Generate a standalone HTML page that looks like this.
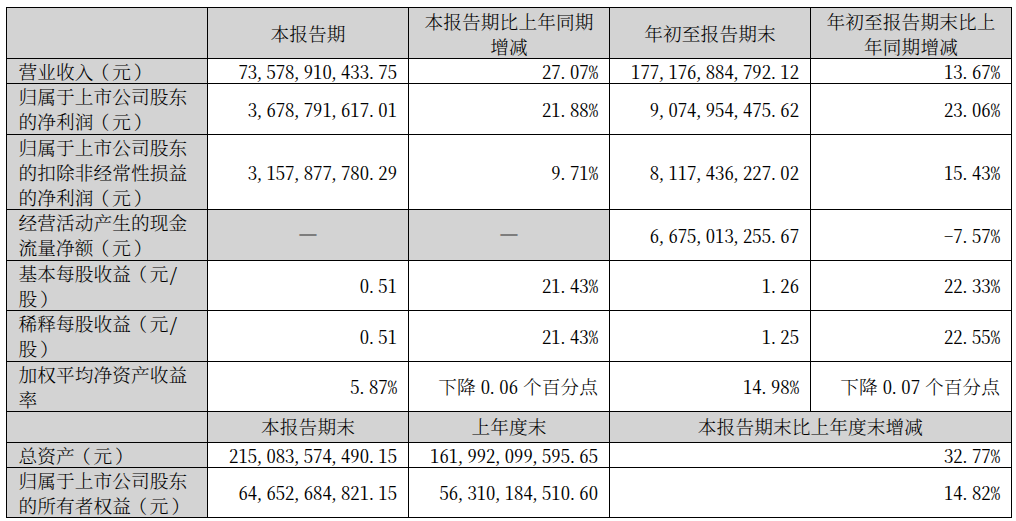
<!DOCTYPE html>
<html lang="zh-CN">
<head>
<meta charset="utf-8">
<title>主要会计数据和财务指标</title>
<style>
html,body{margin:0;padding:0;background:#fff;}
body{width:1016px;height:521px;position:relative;overflow:hidden;
  font-family:"Noto Serif CJK SC","Liberation Serif",serif;
  font-size:18.67px;line-height:25.2px;color:#000;font-kerning:none;}
table{position:absolute;left:6px;top:7px;width:1006px;border-collapse:collapse;table-layout:fixed;}
col{width:201px;}
td,th{border:1px solid #000;padding:0 11px 0 11px;font-weight:300;vertical-align:middle;white-space:nowrap;}
th{background:#d3d3d3;text-align:center;}
th.l{text-align:left;padding-left:11.4px;vertical-align:top;}
td{text-align:right;background:#fff;}
td.g{background:#d3d3d3;text-align:center;}
td.g .c{transform:translateY(-3.5px) scaleX(1.15);color:#7d7d7d;text-shadow:0 -1px 0 #7d7d7d;letter-spacing:0;}
.c{margin:-1.5px 0;line-height:25.2px;letter-spacing:0.12px;position:relative;top:1px;}
th.l .c{top:1px;line-height:25.3px;}
.n,.hw{font-feature-settings:"hwid";letter-spacing:0;font-weight:400;}
.t .hw{display:inline-block;transform:scaleY(0.945);transform-origin:50% 20.7px;}
i{font-style:normal;position:relative;}
.n i,.hw i{left:-2.4px;}
i.a{left:-2.7px;}
i.b{left:2.8px;}
.n{transform:scaleY(0.945);transform-origin:50% 20.7px;}
tr.h31 .c{top:0px;}
tr.h50 td .c{top:0px;}
tr.h51{height:51px}tr.h25{height:25px}tr.h50{height:50px}tr.h75{height:75px}tr.h31{height:31px}
</style>
</head>
<body>
<table>
<colgroup><col><col><col><col><col></colgroup>
<tbody>
<tr class="h51"><th class="l"><div class="c"></div></th><th><div class="c">本报告期</div></th><th><div class="c">本报告期比上年同期<br>增减</div></th><th><div class="c">年初至报告期末</div></th><th><div class="c">年初至报告期末比上<br>年同期增减</div></th></tr>
<tr class="h25"><th class="l"><div class="c">营业收入<i class="a">（</i>元<i class="b">）</i></div></th><td><div class="c n">73<i>,</i>578<i>,</i>910<i>,</i>433<i>.</i>75</div></td><td><div class="c n">27<i>.</i>07%</div></td><td><div class="c n">177<i>,</i>176<i>,</i>884<i>,</i>792<i>.</i>12</div></td><td><div class="c n">13<i>.</i>67%</div></td></tr>
<tr class="h51"><th class="l"><div class="c">归属于上市公司股东<br>的净利润<i class="a">（</i>元<i class="b">）</i></div></th><td><div class="c n">3<i>,</i>678<i>,</i>791<i>,</i>617<i>.</i>01</div></td><td><div class="c n">21<i>.</i>88%</div></td><td><div class="c n">9<i>,</i>074<i>,</i>954<i>,</i>475<i>.</i>62</div></td><td><div class="c n">23<i>.</i>06%</div></td></tr>
<tr class="h75"><th class="l"><div class="c">归属于上市公司股东<br>的扣除非经常性损益<br>的净利润<i class="a">（</i>元<i class="b">）</i></div></th><td><div class="c n">3<i>,</i>157<i>,</i>877<i>,</i>780<i>.</i>29</div></td><td><div class="c n">9<i>.</i>71%</div></td><td><div class="c n">8<i>,</i>117<i>,</i>436<i>,</i>227<i>.</i>02</div></td><td><div class="c n">15<i>.</i>43%</div></td></tr>
<tr class="h51"><th class="l"><div class="c">经营活动产生的现金<br>流量净额<i class="a">（</i>元<i class="b">）</i></div></th><td class="g"><div class="c">—</div></td><td class="g"><div class="c">—</div></td><td><div class="c n">6<i>,</i>675<i>,</i>013<i>,</i>255<i>.</i>67</div></td><td><div class="c n">-7<i>.</i>57%</div></td></tr>
<tr class="h50"><th class="l"><div class="c">基本每股收益<i class="a">（</i>元<span class="hw">/</span><br>股<i class="b">）</i></div></th><td><div class="c n">0<i>.</i>51</div></td><td><div class="c n">21<i>.</i>43%</div></td><td><div class="c n">1<i>.</i>26</div></td><td><div class="c n">22<i>.</i>33%</div></td></tr>
<tr class="h51"><th class="l"><div class="c">稀释每股收益<i class="a">（</i>元<span class="hw">/</span><br>股<i class="b">）</i></div></th><td><div class="c n">0<i>.</i>51</div></td><td><div class="c n">21<i>.</i>43%</div></td><td><div class="c n">1<i>.</i>25</div></td><td><div class="c n">22<i>.</i>55%</div></td></tr>
<tr class="h50"><th class="l"><div class="c">加权平均净资产收益<br>率</div></th><td><div class="c n">5<i>.</i>87%</div></td><td class="t"><div class="c">下降 <span class="hw">0<i>.</i>06</span> 个百分点</div></td><td><div class="c n">14<i>.</i>98%</div></td><td class="t"><div class="c">下降 <span class="hw">0<i>.</i>07</span> 个百分点</div></td></tr>
<tr class="h31"><th class="l"><div class="c"></div></th><th><div class="c">本报告期末</div></th><th><div class="c">上年度末</div></th><th colspan="2"><div class="c">本报告期末比上年度末增减</div></th></tr>
<tr class="h25"><th class="l"><div class="c">总资产<i class="a">（</i>元<i class="b">）</i></div></th><td><div class="c n">215<i>,</i>083<i>,</i>574<i>,</i>490<i>.</i>15</div></td><td><div class="c n">161<i>,</i>992<i>,</i>099<i>,</i>595<i>.</i>65</div></td><td colspan="2"><div class="c n">32<i>.</i>77%</div></td></tr>
<tr class="h50"><th class="l"><div class="c">归属于上市公司股东<br>的所有者权益<i class="a">（</i>元<i class="b">）</i></div></th><td><div class="c n">64<i>,</i>652<i>,</i>684<i>,</i>821<i>.</i>15</div></td><td><div class="c n">56<i>,</i>310<i>,</i>184<i>,</i>510<i>.</i>60</div></td><td colspan="2"><div class="c n">14<i>.</i>82%</div></td></tr>
</tbody>
</table>
</body>
</html>
